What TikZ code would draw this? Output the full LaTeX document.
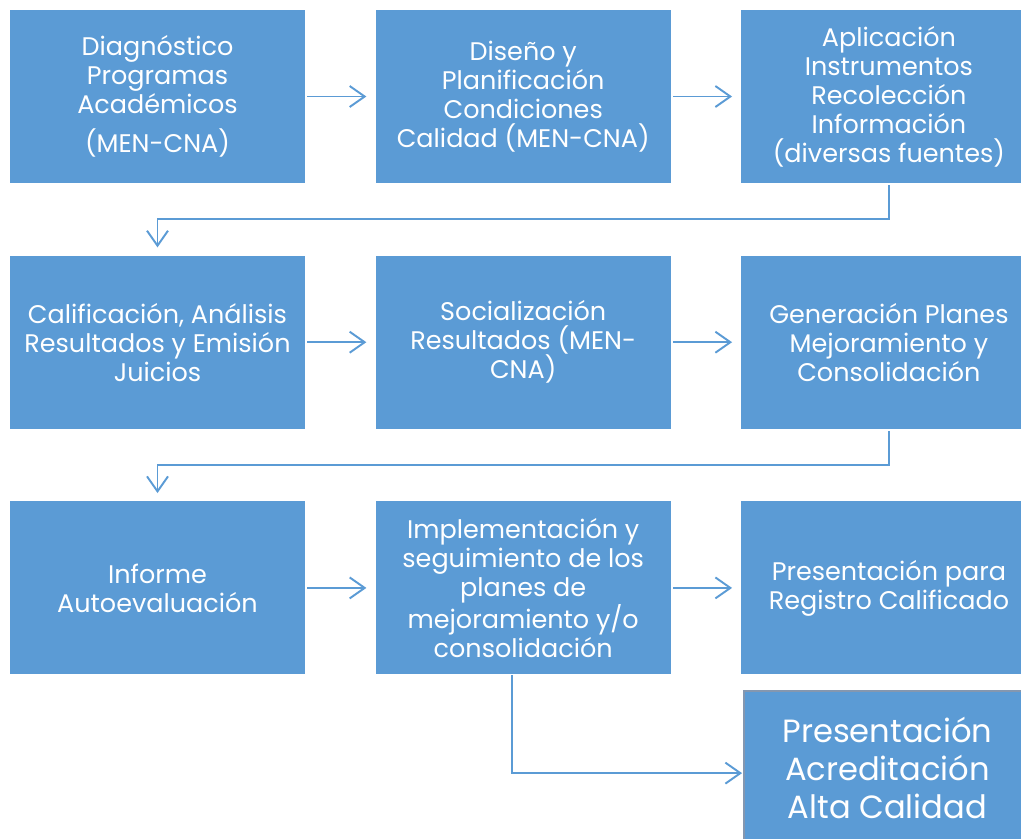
\documentclass[tikz,border=0pt]{standalone}
\usepackage{fontspec}
\setmainfont{Poppins}
\usetikzlibrary{positioning,arrows.meta}
\definecolor{boxblue}{HTML}{5B9BD5}
\definecolor{edgegray}{HTML}{8497B0}

\begin{document}
\begin{tikzpicture}[
            block/.style={rectangle, fill=boxblue, text=white, minimum width=5.9cm, minimum height=3.46cm,
                          align=center, inner sep=2pt, font=\fontsize{14.5}{16.5}\selectfont},
            arrow/.style={-{Straight Barb[length=0.3cm, width=0.42cm]}, draw=boxblue, line width=1.1pt,
                          shorten <=0.04cm, shorten >=0.18cm}
        ]
        \useasboundingbox (0,0) rectangle (20.42,-16.76);
        \node[block] (diag) at (3.15,-1.93) {Diagnóstico\\Programas\\Académicos\\[6pt](MEN-CNA)};
        \node[block, right=1.4cm of diag] (dise) {Diseño y\\Planificación\\Condiciones\\Calidad (MEN-CNA)};
        \node[block, right=1.4cm of dise] (apli) {Aplicación\\Instrumentos\\Recolección\\Información\\(diversas fuentes)};
        \node[block, below=1.44cm of diag] (cali) {Calificación, Análisis\\Resultados y Emisión\\Juicios};
        \node[block, below=1.44cm of dise] (soci) {Socialización\\Resultados (MEN-\\CNA)};
        \node[block, below=1.44cm of apli] (gene) {Generación Planes\\Mejoramiento y\\Consolidación};
        \node[block, below=1.44cm of cali] (info) {Informe\\Autoevaluación};
        \node[block, below=1.44cm of soci] (impl) {Implementación y\\seguimiento de los\\planes de\\mejoramiento y/o\\consolidación};
        \node[block, below=1.44cm of gene] (regi) {Presentación para\\Registro Calificado};
        \node[block, below=0.32cm of regi, xshift=-0.03cm, minimum width=5.72cm, minimum height=3.08cm,
              font=\fontsize{18.3}{21.6}\selectfont] (acre) {Presentación\\Acreditación\\Alta Calidad};
        % only the left and top edges show
        \draw[edgegray, line width=1.3pt] (acre.south west) -- (acre.north west) -- (acre.north east);

        \draw[arrow] (diag) -- (dise);
        \draw[arrow] (dise) -- (apli);
        \draw[arrow, shorten >=0.16cm] (apli.south) -- ++(0,-0.72) -| (cali.north);
        \draw[arrow] (cali) -- (soci);
        \draw[arrow] (soci) -- (gene);
        \draw[arrow, shorten >=0.16cm] (gene.south) -- ++(0,-0.72) -| (info.north);
        \draw[arrow] (info) -- (impl);
        \draw[arrow] (impl) -- (regi);
        \draw[arrow, shorten <=0pt, shorten >=0.04cm] ([xshift=-0.22cm]impl.south) |- ([yshift=-0.1cm]acre.west);
        \end{tikzpicture}
\end{document}
